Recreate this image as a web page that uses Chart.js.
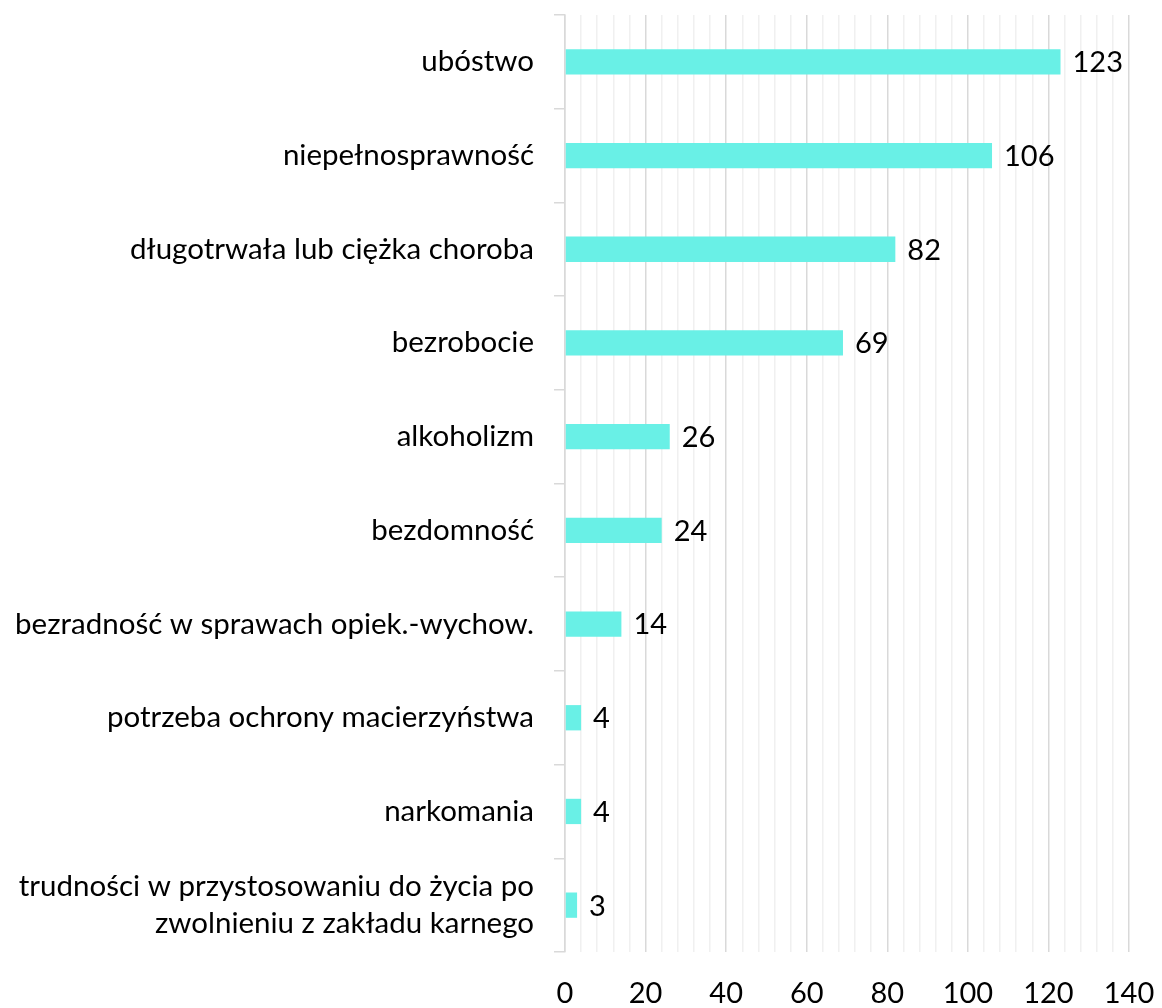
<!DOCTYPE html>
<html>
<head>
<meta charset="utf-8">
<script src="https://cdn.jsdelivr.net/npm/chart.js@4/dist/chart.umd.min.js"></script>
<style>
  html, body { margin: 0; padding: 0; background: #fff; }
  #wrap { width: 1162px; height: 1008px; }
</style>
</head>
<body>
<div id="wrap"><canvas id="problemy"></canvas></div>
<script>
// Powody przyznania pomocy
const kategorie = [
  'ubóstwo',
  'niepełnosprawność',
  'długotrwała lub ciężka choroba',
  'bezrobocie',
  'alkoholizm',
  'bezdomność',
  'bezradność w sprawach opiek.-wychow.',
  'potrzeba ochrony macierzyństwa',
  'narkomania',
  ['trudności w przystosowaniu do życia po', 'zwolnieniu z zakładu karnego']
];
const liczby = [123, 106, 82, 69, 26, 24, 14, 4, 4, 3];
const osX = { min: 0, max: 140, krok: 4, krokEtykiet: 20 };

const FONT = 'Lato, "Open Sans", sans-serif';

const etykietyWartosci = {
  id: 'etykietyWartosci',
  afterDatasetsDraw(chart) {
    const ctx = chart.ctx;
    const meta = chart.getDatasetMeta(0);
    ctx.save();
    ctx.font = '29px ' + FONT;
    ctx.fillStyle = '#000';
    ctx.textAlign = 'left';
    ctx.textBaseline = 'middle';
    meta.data.forEach((bar, i) => {
      ctx.fillText(String(liczby[i]), bar.x + 12, bar.y + 1);
    });
    ctx.restore();
  }
};

const ctx1 = document.getElementById('problemy');
new Chart(ctx1, {
  type: 'bar',
  data: {
    labels: kategorie,
    datasets: [{
      label: 'Liczba rodzin',
      data: liczby,
      backgroundColor: '#69F0E6',
      barPercentage: 0.27,
      categoryPercentage: 1
    }]
  },
  options: {
    indexAxis: 'y',
    responsive: true,
    maintainAspectRatio: false,
    animation: false,
    layout: { padding: { top: 15, right: 33, left: 0, bottom: 0 } },
    plugins: {
      legend: { display: false },
      tooltip: { enabled: false }
    },
    scales: {
      x: {
        min: osX.min,
        max: osX.max,
        afterBuildTicks: scale => {
          const t = [];
          for (let v = osX.min; v <= osX.max; v += osX.krok) t.push({ value: v });
          scale.ticks = t;
        },
        afterFit: scale => {
          scale.height = 56;
          scale.paddingLeft = 0;
          scale.paddingRight = 0;
        },
        ticks: {
          autoSkip: false,
          maxRotation: 0,
          padding: 24,
          color: '#000',
          font: { family: FONT, size: 29 },
          callback: v => (v % osX.krokEtykiet === 0 ? v : '')
        },
        grid: {
          drawTicks: false,
          lineWidth: 1.5,
          color: c => (c.tick && c.tick.value % osX.krokEtykiet === 0 ? '#d9d9d9' : '#f0f0f0')
        },
        border: { display: false }
      },
      y: {
        afterFit: scale => {
          scale.width = 565;
          scale.paddingTop = 0;
          scale.paddingBottom = 0;
        },
        ticks: {
          padding: 20,
          color: '#000',
          font: { family: FONT, size: 29.5, lineHeight: 1.25 }
        },
        grid: {
          offset: true,
          drawOnChartArea: false,
          tickLength: 11,
          lineWidth: 1.5,
          color: '#d9d9d9'
        },
        border: { color: '#d9d9d9', width: 1.5 }
      }
    }
  },
  plugins: [etykietyWartosci]
});
</script>
</body>
</html>
